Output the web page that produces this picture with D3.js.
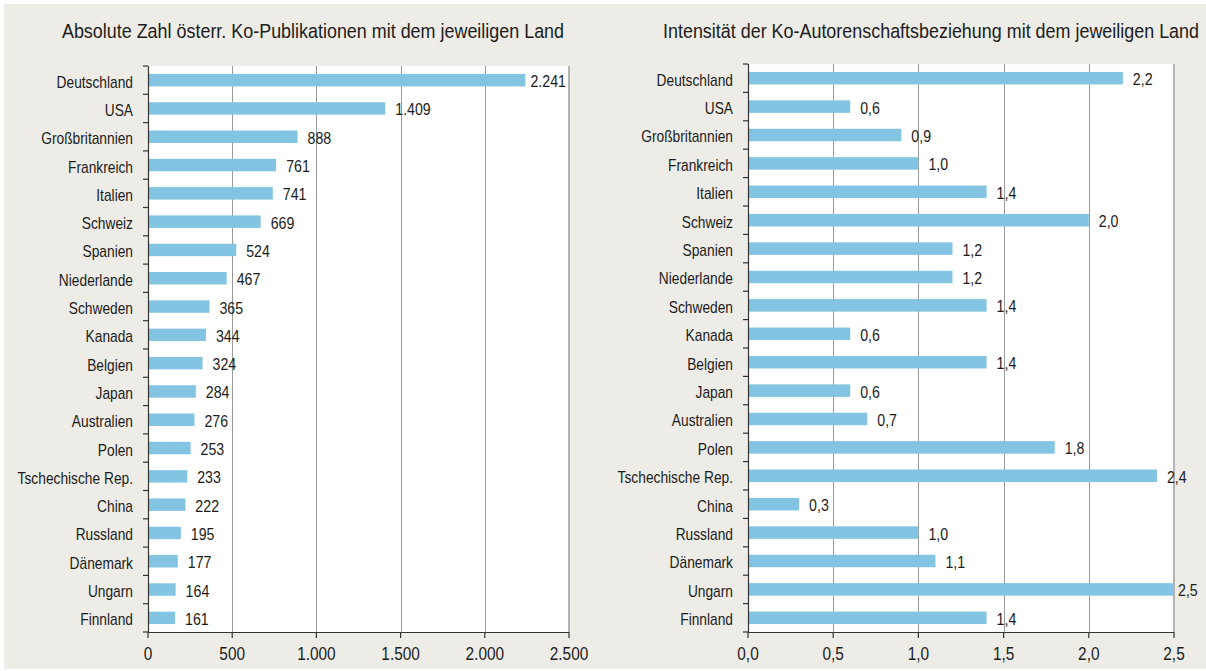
<!DOCTYPE html>
<html>
<head>
<meta charset="utf-8">
<script src="https://cdn.jsdelivr.net/npm/d3@7"></script>
<style>
  body { margin: 0; background: #ffffff; }
  text { font-family: "Liberation Sans", Arial, sans-serif; fill: #1c1c1c; }
</style>
</head>
<body>
<svg id="chart" width="1206" height="671"></svg>
<script>
// Countries, same order in both panels
const countries = ["Deutschland", "USA", "Großbritannien", "Frankreich", "Italien", "Schweiz",
  "Spanien", "Niederlande", "Schweden", "Kanada", "Belgien", "Japan", "Australien", "Polen",
  "Tschechische Rep.", "China", "Russland", "Dänemark", "Ungarn", "Finnland"];

// Absolute number of co-publications
const absoluteValues = [2241, 1409, 888, 761, 741, 669, 524, 467, 365, 344, 324, 284, 276, 253,
  233, 222, 195, 177, 164, 161];

// Intensity of the co-authorship relation
const intensityValues = [2.2, 0.6, 0.9, 1.0, 1.4, 2.0, 1.2, 1.2, 1.4, 0.6, 1.4, 0.6, 0.7, 1.8,
  2.4, 0.3, 1.0, 1.1, 2.5, 1.4];

// x tick values
const absoluteTicks = [0, 500, 1000, 1500, 2000, 2500];
const intensityTicks = [0, 0.5, 1.0, 1.5, 2.0, 2.5];

const titles = ["Absolute Zahl österr. Ko-Publikationen mit dem jeweiligen Land",
  "Intensität der Ko-Autorenschaftsbeziehung mit dem jeweiligen Land"];

// German number format (1.000 / 0,5)
const de = d3.formatLocale({decimal: ",", thousands: ".", grouping: [3], currency: ["", " €"]});

const BAR_COLOR = "#82c4e2";
// horizontal squeeze to mimic a condensed font
const SX = 0.86;
const svg = d3.select("#chart");

// place a text at x with condensed glyphs
function condense(sel, xFn, sx = SX) {
  sel.attr("transform", `scale(${sx},1)`)
     .attr("x", (d, i) => xFn(d, i) / sx);
}

// beige background
svg.append("rect").attr("x", 4).attr("y", 4).attr("width", 1202).attr("height", 665)
   .attr("fill", "#edece6");

function drawPanel(opts) {
  const x = d3.scaleLinear().domain(opts.domain).range([opts.left, opts.right]);
  const y = d3.scaleBand().domain(countries).range([opts.top, opts.bottom])
              .paddingInner(0.56).paddingOuter(0.28);
  const g = svg.append("g");

  // white plot area
  g.append("rect").attr("x", opts.left).attr("y", opts.top)
   .attr("width", opts.right - opts.left).attr("height", opts.bottom - opts.top)
   .attr("fill", "#ffffff");

  // vertical gridlines
  g.selectAll(".grid").data(opts.ticks.slice(1, -1)).enter().append("line")
   .attr("x1", d => Math.round(x(d)) + 0.5).attr("x2", d => Math.round(x(d)) + 0.5)
   .attr("y1", opts.top).attr("y2", opts.bottom)
   .attr("stroke", "#9a9a9a").attr("stroke-width", 1);

  // right border
  g.append("line").attr("x1", opts.right).attr("x2", opts.right)
   .attr("y1", opts.top).attr("y2", opts.bottom)
   .attr("stroke", "#b4b4b4").attr("stroke-width", 2);

  // bars
  g.selectAll(".bar").data(opts.values).enter().append("rect")
   .attr("x", x(0))
   .attr("y", (d, i) => y(countries[i]))
   .attr("width", d => x(d) - x(0))
   .attr("height", y.bandwidth())
   .attr("fill", BAR_COLOR);

  // value labels
  g.selectAll(".val").data(opts.values).enter().append("text")
   .attr("y", (d, i) => y(countries[i]) + y.bandwidth() / 2 + 7)
   .attr("font-size", "16.5px")
   .text(d => opts.fmt(d))
   .each(function(d) {
     const w = this.getComputedTextLength() * SX;
     let lx = x(d) + 10;
     if (opts.squeeze && lx + w > opts.right - 3) lx = opts.right - 3 - w;
     if (!opts.squeeze && x(d) >= opts.right - 1) lx = x(d) + 4;
     condense(d3.select(this), () => lx);
   });

  // left axis with ticks between categories
  const bounds = d3.range(countries.length + 1).map(i => opts.top + i * y.step());
  g.append("line").attr("x1", opts.left + 0.5).attr("x2", opts.left + 0.5)
   .attr("y1", opts.top).attr("y2", opts.bottom)
   .attr("stroke", "#333").attr("stroke-width", 1.2);
  g.selectAll(".ytick").data(bounds).enter().append("line")
   .attr("x1", opts.left - 5).attr("x2", opts.left)
   .attr("y1", d => d).attr("y2", d => d)
   .attr("stroke", "#333").attr("stroke-width", 1.2);
  g.selectAll(".ylab").data(countries).enter().append("text")
   .attr("y", d => y(d) + y.bandwidth() / 2 + 7.5)
   .attr("text-anchor", "end")
   .attr("font-size", "16px")
   .text(d => d)
   .call(condense, () => opts.left - 15);

  // bottom axis
  g.append("line").attr("x1", opts.left).attr("x2", opts.right)
   .attr("y1", opts.bottom + 0.5).attr("y2", opts.bottom + 0.5)
   .attr("stroke", "#333").attr("stroke-width", 1.2);
  g.selectAll(".xtick").data(opts.ticks).enter().append("line")
   .attr("x1", d => x(d)).attr("x2", d => x(d))
   .attr("y1", opts.bottom).attr("y2", opts.bottom + 6)
   .attr("stroke", "#333").attr("stroke-width", 1.2);
  g.selectAll(".xlab").data(opts.ticks).enter().append("text")
   .attr("y", opts.bottom + 28)
   .attr("text-anchor", "middle")
   .attr("font-size", "17.5px")
   .text(d => opts.tickFmt(d))
   .call(condense, d => x(d), 0.88);

  // title
  g.append("text").attr("y", 38.5)
   .attr("text-anchor", "middle").attr("font-size", "19.5px")
   .text(opts.title)
   .call(condense, () => opts.titleX, 0.92);
}

drawPanel({
  values: absoluteValues, domain: [0, 2500], ticks: absoluteTicks,
  left: 148, right: 569, top: 66, bottom: 632,
  fmt: de.format(",d"), tickFmt: de.format(",d"), squeeze: true,
  title: titles[0], titleX: 313
});

drawPanel({
  values: intensityValues, domain: [0, 2.5], ticks: intensityTicks,
  left: 748, right: 1174, top: 64, bottom: 632,
  fmt: de.format(".1f"), tickFmt: de.format(".1f"), squeeze: false,
  title: titles[1], titleX: 931
});
</script>
</body>
</html>
